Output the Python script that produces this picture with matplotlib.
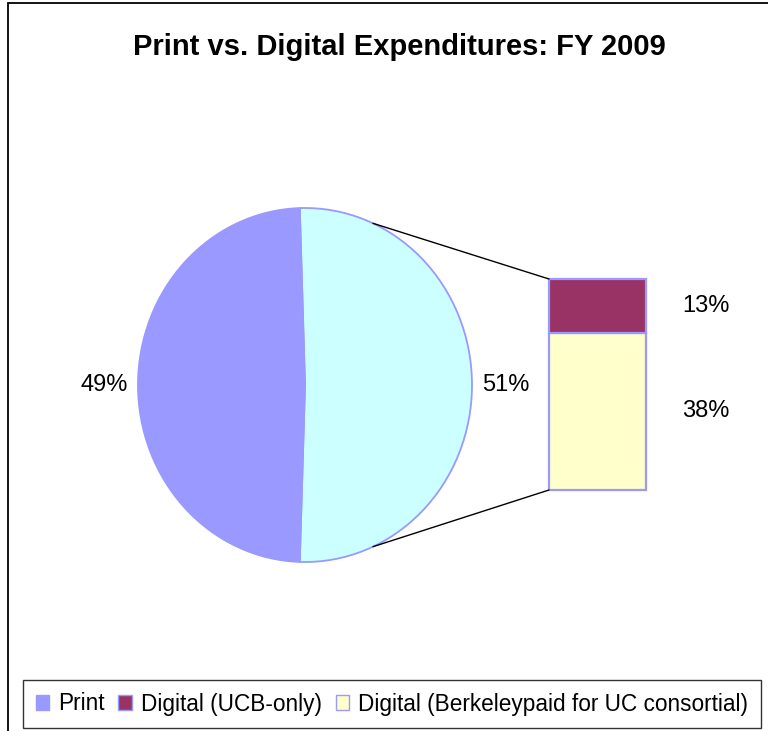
import matplotlib
matplotlib.use("Agg")
import matplotlib.pyplot as plt
from matplotlib.patches import Rectangle, ConnectionPatch
import numpy as np

plt.rcParams['font.family'] = ['Liberation Sans', 'DejaVu Sans']

# data
title = "Print vs. Digital Expenditures: FY 2009"
pie_labels = ["Digital", "Print"]
pie_values = [51, 49]
bar_labels = ["Digital (Berkeley paid for UC consortial)", "Digital (UCB-only)"]
bar_values = [38, 13]
legend_names = ["Print", "Digital (UCB-only)", "Digital (Berkeleypaid for UC consortial)"]

pie_colors = ["#CCFFFF", "#9999FF"]
bar_colors = ["#FFFFCC", "#993366"]
edge = "#9999FF"

W, H = 768, 731
fig = plt.figure(figsize=(W / 100, H / 100), dpi=100)

def rect(x0, y0, x1, y1):
    # pixel box (top-left origin) -> figure fraction
    return [x0 / W, 1 - y1 / H, (x1 - x0) / W, (y1 - y0) / H]

# chart area border (cropped on right and bottom)
fig.add_artist(Rectangle((8 / W, -0.1), 1.2, 1 - 3 / H + 0.1, transform=fig.transFigure,
                         fill=False, edgecolor="black", linewidth=1.3))

fig.text(399 / W, 1 - 47 / H, title, ha="center", va="center",
         fontsize=21, fontweight="bold")

# main pie, digital slice centred on the right
axp = fig.add_axes(rect(138, 208, 472, 562))
start = pie_values[0] / sum(pie_values) * 180
wedges, _, autotexts = axp.pie(pie_values, colors=pie_colors, startangle=start,
                               counterclock=False, autopct="%.0f%%", pctdistance=1.2,
                               wedgeprops=dict(edgecolor=edge, linewidth=1.3),
                               textprops=dict(fontsize=17))
axp.set_aspect("auto")
axp.set_xlim(-1, 1)
axp.set_ylim(-1, 1)
axp.axis("off")

# stacked bar for the digital split
axb = fig.add_axes(rect(549, 279, 646, 490))
bottom = 0
for v, c in zip(bar_values, bar_colors):
    bars = axb.bar(0.5, v, width=1, bottom=bottom, color=c, edgecolor=edge, linewidth=1.6)
    for b in bars:
        b.set_clip_on(False)
    axb.text(1.62, bottom + v / 2, "%d%%" % v, ha="center", va="center", fontsize=17)
    bottom += v
axb.set_xlim(0, 1)
axb.set_ylim(0, sum(bar_values))
axb.axis("off")

# connector lines
ang = np.radians(66)
for sgn, yb in [(1, sum(bar_values)), (-1, 0)]:
    con = ConnectionPatch(xyA=(np.cos(ang), sgn * np.sin(ang)), coordsA=axp.transData,
                          xyB=(0, yb), coordsB=axb.transData, color="black", linewidth=1.0)
    fig.add_artist(con)

handles = [Rectangle((0, 0), 1, 1, facecolor=pie_colors[1], edgecolor=edge),
           Rectangle((0, 0), 1, 1, facecolor=bar_colors[1], edgecolor=edge),
           Rectangle((0, 0), 1, 1, facecolor=bar_colors[0], edgecolor=edge)]
leg = fig.legend(handles, legend_names, loc="center", bbox_to_anchor=(392 / W, 1 - 704 / H),
                 ncol=3, fontsize=16.3, frameon=True, fancybox=False, edgecolor="black",
                 handlelength=0.6, handleheight=0.6, handletextpad=0.4, columnspacing=0.6,
                 borderpad=0.55, borderaxespad=0)
leg.get_frame().set_linewidth(1.0)

fig.savefig("out.png", dpi=100)
